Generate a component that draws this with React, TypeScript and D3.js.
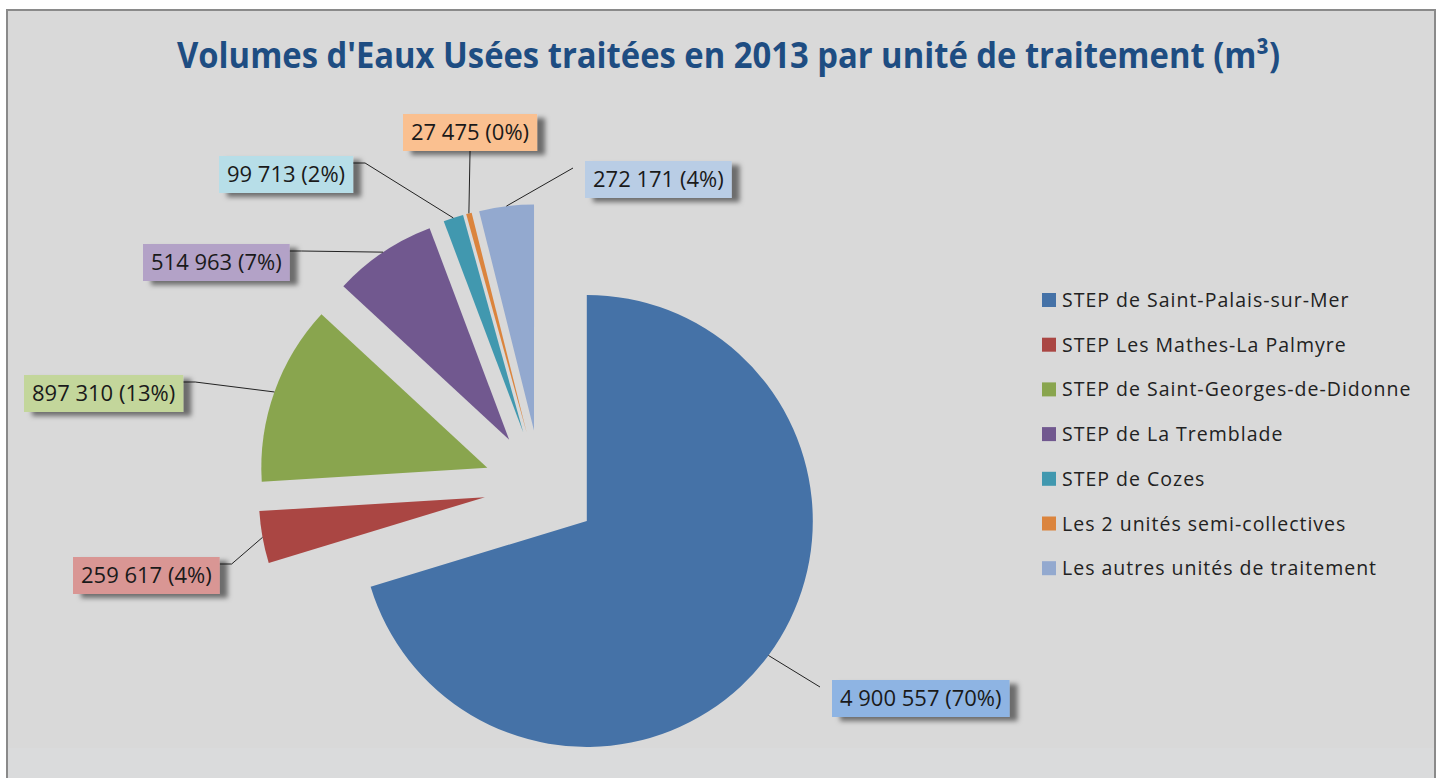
import React, { useEffect, useRef } from "react";
import * as d3 from "d3";

// data
const categories = [
  "STEP de Saint-Palais-sur-Mer",
  "STEP Les Mathes-La Palmyre",
  "STEP de Saint-Georges-de-Didonne",
  "STEP de La Tremblade",
  "STEP de Cozes",
  "Les 2 unités semi-collectives",
  "Les autres unités de traitement",
];
const volumes = [4900557, 259617, 897310, 514963, 99713, 27475, 272171];
// percentages as printed on the original callouts
const percents = [70, 4, 13, 7, 2, 0, 4];
const sliceColors = ["#4572a7", "#aa4643", "#89a54e", "#71588f", "#4198af", "#db843d", "#93a9cf"];
const labelColors = ["#8eb4e3", "#d99694", "#c3d69b", "#b3a2c7", "#b7dee8", "#fac090", "#b9cde5"];

// where Excel put each callout box (top-left) and which side the leader enters
const labelLayout = [
  { x: 832, y: 680, side: "left" },
  { x: 73, y: 557, side: "right" },
  { x: 24, y: 375, side: "right" },
  { x: 143, y: 244, side: "right" },
  { x: 219, y: 156, side: "right" },
  { x: 403, y: 114, side: "bottom" },
  { x: 585, y: 161, side: "left" },
];

const fmt = (v: number) => d3.format(",")(v).replace(/,/g, " ");

const App = () => {
  const ref = useRef<SVGSVGElement>(null);

  useEffect(() => {
    const width = 1441;
    const height = 778;
    const cx = 541;
    const cy = 487;
    const radius = 226;
    const explode = 57;

    const svg = d3.select(ref.current).attr("width", width).attr("height", height);
    svg.selectAll("*").remove();

    const defs = svg.append("defs");
    defs.append("filter")
      .attr("id", "shadow")
      .attr("x", "-20%").attr("y", "-30%").attr("width", "150%").attr("height", "170%")
      .append("feDropShadow")
      .attr("dx", 8).attr("dy", 4).attr("stdDeviation", 2.5)
      .attr("flood-color", "#000").attr("flood-opacity", 0.5);

    // chart area
    svg.append("rect")
      .attr("x", 7).attr("y", 10)
      .attr("width", 1428).attr("height", 820)
      .attr("fill", "#d9d9d9")
      .attr("stroke", "#8a8a8a")
      .attr("stroke-width", 2);
    svg.append("rect")
      .attr("x", 8).attr("y", 748)
      .attr("width", 1426).attr("height", 40)
      .attr("fill", "#dadbdc");

    svg.append("text")
      .attr("x", 177)
      .attr("y", 68)
      .attr("textLength", 1103)
      .attr("lengthAdjust", "spacingAndGlyphs")
      .attr("font-family", "'Open Sans', sans-serif")
      .attr("font-weight", "bold")
      .attr("font-size", 35)
      .attr("fill", "#1e4d82")
      .text("Volumes d'Eaux Usées traitées en 2013 par unité de traitement (m³)");

    const pie = d3.pie<number>().sort(null).value((d) => d);
    const arcs = pie(volumes);
    const arc = d3.arc<d3.PieArcDatum<number>>().innerRadius(0).outerRadius(radius);

    const mid = (d: d3.PieArcDatum<number>) => (d.startAngle + d.endAngle) / 2;
    const dir = (a: number) => [Math.sin(a), -Math.cos(a)];

    const pieG = svg.append("g").attr("transform", `translate(${cx},${cy})`);
    pieG.selectAll("path")
      .data(arcs)
      .join("path")
      .attr("transform", (d) => {
        const [dx, dy] = dir(mid(d));
        return `translate(${dx * explode},${dy * explode})`;
      })
      .attr("d", arc)
      .attr("fill", (d, i) => sliceColors[i]);

    // callouts
    const labelsG = svg.append("g");
    arcs.forEach((d, i) => {
      const lay = labelLayout[i];
      const [ux, uy] = dir(mid(d));
      const ax = cx + ux * (explode + radius);
      const ay = cy + uy * (explode + radius);

      const g = labelsG.append("g");
      const leader = g.append("path").attr("fill", "none").attr("stroke", "#222").attr("stroke-width", 1);
      const box = g.append("rect")
        .attr("x", lay.x).attr("y", lay.y)
        .attr("height", 37)
        .attr("fill", labelColors[i])
        .attr("filter", "url(#shadow)");
      const txt = g.append("text")
        .attr("x", lay.x + 8)
        .attr("y", lay.y + 26)
        .attr("font-family", "'Open Sans', sans-serif")
        .attr("font-size", 22)
        .attr("fill", "#1a1a1a")
        .text(`${fmt(d.data)} (${percents[i]}%)`);

      const tw = (txt.node() as SVGTextElement).getComputedTextLength();
      const bw = tw + 16;
      box.attr("width", bw);

      let pts: [number, number][];
      if (lay.side === "bottom") {
        pts = [[ax, ay], [lay.x + bw / 2, lay.y + 37]];
      } else if (lay.side === "right") {
        const ex = lay.x + bw;
        pts = [[ax, ay], [ex + 12, lay.y + 7], [ex, lay.y + 7]];
      } else {
        pts = [[ax, ay], [lay.x - 12, lay.y + 7]];
      }
      leader.attr("d", d3.line()(pts));
    });

    // legend
    const legendG = svg.append("g");
    categories.forEach((c, i) => {
      const y = 300 + i * 44.7;
      legendG.append("rect")
        .attr("x", 1042).attr("y", y - 7)
        .attr("width", 14).attr("height", 14)
        .attr("fill", sliceColors[i]);
      legendG.append("text")
        .attr("x", 1062)
        .attr("y", y + 7)
        .attr("font-family", "'Open Sans', sans-serif")
        .attr("font-size", 19.5)
        .attr("letter-spacing", 1)
        .attr("fill", "#222")
        .text(c);
    });
  }, []);

  return (
    <svg ref={ref} style={{ position: "absolute", left: 0, top: 0, display: "block" }} />
  );
};

export default App;
